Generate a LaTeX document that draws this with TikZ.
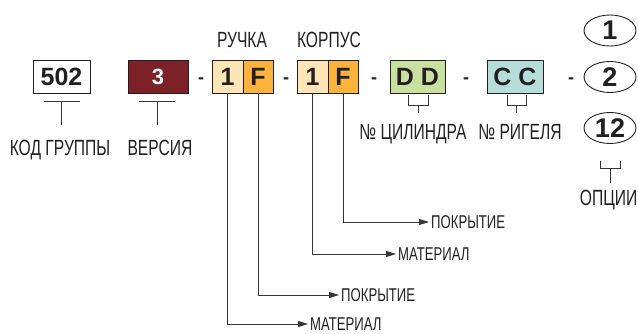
\documentclass[tikz,border=0pt]{standalone}
\usepackage{fontspec}
\setmainfont{Liberation Sans}
\newfontfamily\condfont[FakeStretch=0.71]{Liberation Sans}
\usepackage{xcolor}
\usetikzlibrary{shapes.geometric,arrows.meta,calc}

\definecolor{ink}{HTML}{231F20}
\definecolor{wine}{HTML}{7B2127}
\definecolor{peach}{HTML}{FDE5B8}
\definecolor{amber}{HTML}{FBB33B}
\definecolor{lime}{HTML}{C8E0A0}
\definecolor{aqua}{HTML}{B5DEDB}

\tikzset{
  codebox/.style={draw=ink, line width=0.9pt, minimum height=33pt, inner sep=0pt,
    text=ink, font=\bfseries\fontsize{25}{25}\selectfont},
  oval/.style={ellipse, draw=ink, line width=0.9pt, minimum width=52pt, minimum height=31pt,
    inner sep=0pt, text=ink, font=\bfseries\fontsize{27}{27}\selectfont},
  sepmark/.style={anchor=base, inner sep=0pt, text=ink, font=\bfseries\fontsize{18}{18}\selectfont},
  lbl/.style={inner sep=0pt, text=ink, text height=15.7pt, text depth=0pt,
    font=\condfont\fontsize{22}{22}\selectfont},
  sublbl/.style={anchor=west, inner sep=2pt, text=ink, text height=13.2pt, text depth=0pt,
    font=\condfont\fontsize{18.5}{18.5}\selectfont},
  wire/.style={draw=ink!90, line width=0.8pt},
  arr/.style={wire, -{Triangle[length=10pt,width=6pt]}}
}

\begin{document}
\begin{tikzpicture}[x=1pt,y=-1pt]
  \useasboundingbox (0,0) rectangle (638,334);

  % code boxes
  \node[codebox, minimum width=57pt, fill=white] (grp) at (61.5,76.5) {502};
  \node[codebox, minimum width=60pt, fill=wine, text=white,
        font=\bfseries\fontsize{22}{22}\selectfont] (ver) at (158,76.5) {3};
  \node[codebox, minimum width=31pt, fill=peach] (hmat) at (227.5,76.5) {1};
  \node[codebox, minimum width=30pt, fill=amber] (hcov) at (258,76.5) {F};
  \node[codebox, minimum width=31pt, fill=peach] (bmat) at (312.5,76.5) {1};
  \node[codebox, minimum width=30pt, fill=amber] (bcov) at (343,76.5) {F};
  \node[codebox, minimum width=55pt, fill=lime] (cyl) at (417.5,76.5) {D D};
  \node[codebox, minimum width=56pt, fill=aqua] (bolt) at (515,76.5) {C C};

  % separators
  \foreach \x/\n in {201/s1,286/s2,374/s3,466/s4,571/s5}
    \node[sepmark] (\n) at (\x,84) {-};

  % options
  \node[oval] (opt1) at (610,30.5) {1};
  \node[oval] (opt2) at (610,77) {2};
  \node[oval] (opt12) at (610,128) {12};

  % labels
  \node[lbl] (lhand) at (242,40) {РУЧКА};
  \node[lbl] (lbody) at (329,40) {КОРПУС};
  \node[lbl] (lgrp) at (60,148) {КОД ГРУППЫ};
  \node[lbl] (lver) at (160,148) {ВЕРСИЯ};
  \node[lbl] (lcyl) at (413,132) {№ ЦИЛИНДРА};
  \node[lbl] (lbolt) at (520,132) {№ РИГЕЛЯ};
  \node[lbl, anchor=east] (lopt) at (637.5,198) {ОПЦИИ};

  % tick marks
  \draw[wire] ($(grp.south)+(-18,8)$) -- ++(36,0);
  \draw[wire] ($(grp.south)+(0,8)$) -- ++(0,24);
  \draw[wire] ($(ver.south)+(-19,8)$) -- ++(36,0);
  \draw[wire] ($(ver.south)+(-1,8)$) -- ++(0,24);

  % brackets
  \draw[wire] ($(cyl.south)+(-9.5,2)$) -- ++(0,10) -- ++(20,0) -- ++(0,-10);
  \draw[wire] ($(cyl.south)+(0.5,12)$) -- ++(0,8);
  \draw[wire] ($(bolt.south)+(-8,2)$) -- ++(0,10) -- ++(19,0) -- ++(0,-10);
  \draw[wire] ($(bolt.south)+(1.5,12)$) -- ++(0,8);
  \draw[wire] ($(opt12.south)+(-10,17)$) -- ++(0,7) -- ++(20,0) -- ++(0,-7);
  \draw[wire] ($(opt12.south)+(0,24)$) -- ++(0,15);

  % material and coating
  \node[sublbl] (lbcov) at (429,222) {ПОКРЫТИЕ};
  \node[sublbl] (lbmat) at (396,254) {МАТЕРИАЛ};
  \node[sublbl] (lhcov) at (339,295) {ПОКРЫТИЕ};
  \node[sublbl] (lhmat) at (308,324) {МАТЕРИАЛ};

  \draw[arr] (bcov.south) |- (lbcov.west);
  \draw[arr] (bmat.south) |- (lbmat.west);
  \draw[arr] (hcov.south) |- (lhcov.west);
  \draw[arr] (hmat.south) |- (lhmat.west);
\end{tikzpicture}
\end{document}
